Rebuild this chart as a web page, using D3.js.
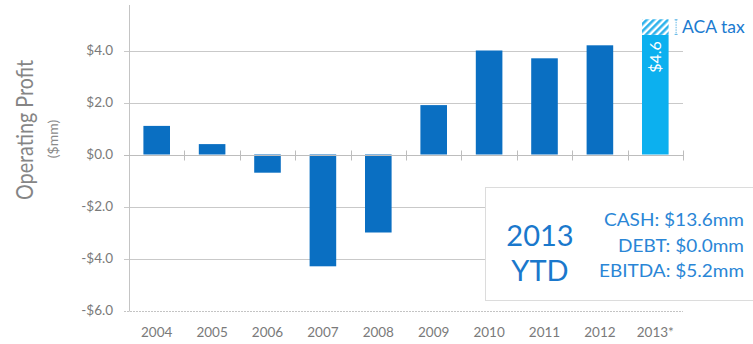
<!DOCTYPE html>
<html>
<head>
<meta charset="utf-8">
<script src="https://cdn.jsdelivr.net/npm/d3@7/dist/d3.min.js"></script>
<style>
  html, body { margin: 0; padding: 0; background: #fff; }
  svg { display: block; font-family: Lato, "Open Sans", sans-serif; }
</style>
</head>
<body>
<svg id="chart" width="753" height="344"></svg>
<script>
// Operating profit by year ($mm)
const years = ["2004", "2005", "2006", "2007", "2008", "2009", "2010", "2011", "2012", "2013*"];
const profit = [1.1, 0.4, -0.7, -4.3, -3.0, 1.9, 4.0, 3.7, 4.2, 4.6];
const acaTax = [0, 0, 0, 0, 0, 0, 0, 0, 0, 0.6];
const yTicks = [-6, -4, -2, 0, 2, 4];
const ytdLines = ["CASH: $13.6mm", "DEBT: $0.0mm", "EBITDA: $5.2mm"];

const svg = d3.select("#chart");
const left = 129, right = 683;

const x = d3.scaleBand().domain(years).range([left, right]).paddingInner(0.52).paddingOuter(0.26);
const y = d3.scaleLinear().domain([-6, 4]).range([310.5, 50.5]);

// hatch pattern for the ACA tax portion
const defs = svg.append("defs");
const pat = defs.append("pattern").attr("id", "hatch").attr("patternUnits", "userSpaceOnUse")
  .attr("width", 5).attr("height", 5).attr("patternTransform", "rotate(45)");
pat.append("rect").attr("width", 5).attr("height", 5).attr("fill", "#fff");
pat.append("rect").attr("width", 2.6).attr("height", 5).attr("fill", "#2fb3ec");

// horizontal gridlines
svg.append("g").selectAll("line").data(yTicks.filter(d => d !== 0 && d !== -6)).join("line")
  .attr("x1", left - 5).attr("x2", right)
  .attr("y1", d => Math.round(y(d)) + 0.5).attr("y2", d => Math.round(y(d)) + 0.5)
  .attr("stroke", "#c9c9c9").attr("stroke-width", 1);

// bottom line
svg.append("line").attr("x1", left - 5).attr("x2", right)
  .attr("y1", Math.round(y(-6)) + 0.5).attr("y2", Math.round(y(-6)) + 0.5)
  .attr("stroke", "#c4c4c4").attr("stroke-dasharray", "2,1");

// vertical axis line
svg.append("line").attr("x1", left + 0.5).attr("x2", left + 0.5).attr("y1", 5).attr("y2", Math.round(y(-6)) + 0.5)
  .attr("stroke", "#c4c4c4");

// y tick labels
const yAxis = d3.axisLeft(y).tickValues(yTicks).tickSize(0).tickPadding(0)
  .tickFormat(d => (d < 0 ? "-$" : "$") + Math.abs(d).toFixed(1));
const gy = svg.append("g").attr("transform", `translate(${left - 16},0)`).call(yAxis);
gy.select(".domain").remove();
gy.selectAll("text").attr("fill", "#7a7a7a").style("font-size", "13.5px")
  .style("font-family", "Lato, 'Open Sans', sans-serif");

// bars
svg.append("g").selectAll("rect").data(years).join("rect")
  .attr("x", d => x(d))
  .attr("width", x.bandwidth())
  .attr("y", (d, i) => y(Math.max(0, profit[i])))
  .attr("height", (d, i) => Math.abs(y(profit[i]) - y(0)))
  .attr("fill", (d, i) => i === years.length - 1 ? "#0cb0ef" : "#0a6fc2");

// ACA tax stacked segment
svg.append("g").selectAll("rect").data(years.filter((d, i) => acaTax[i] > 0)).join("rect")
  .attr("x", d => x(d))
  .attr("width", x.bandwidth())
  .attr("y", d => { const i = years.indexOf(d); return y(profit[i] + acaTax[i]); })
  .attr("height", d => { const i = years.indexOf(d); return y(profit[i]) - y(profit[i] + acaTax[i]); })
  .attr("fill", "url(#hatch)");

// zero line with category separators
const zy = Math.round(y(0)) + 0.5;
svg.append("line").attr("x1", left - 5).attr("x2", right).attr("y1", zy).attr("y2", zy)
  .attr("stroke", "#bdbdbd");
const step = x.step();
svg.append("g").selectAll("line").data(d3.range(1, years.length + 1)).join("line")
  .attr("x1", i => Math.round(left + i * step) + 0.5)
  .attr("x2", i => Math.round(left + i * step) + 0.5)
  .attr("y1", zy - 5).attr("y2", zy + 5)
  .attr("stroke", "#bdbdbd");

// value label inside the 2013 bar
const last = years[years.length - 1];
svg.append("text")
  .attr("transform", `translate(${x(last) + x.bandwidth() / 2 + 5.5},${y(profit[9]) + 22}) rotate(-90)`)
  .attr("text-anchor", "middle").attr("fill", "#fff").style("font-size", "16px")
  .text("$" + profit[9].toFixed(1));

// ACA tax bracket and label
const tTop = y(profit[9] + acaTax[9]), tBot = y(profit[9]);
const bx = x(last) + x.bandwidth() + 7.5;
svg.append("line").attr("x1", bx).attr("x2", bx).attr("y1", tTop).attr("y2", tBot)
  .attr("stroke", "#5fb6e6").attr("stroke-dasharray", "1.5,1");
svg.append("line").attr("x1", bx - 1.5).attr("x2", bx + 1.5).attr("y1", tTop + 0.5).attr("y2", tTop + 0.5).attr("stroke", "#5fb6e6");
svg.append("line").attr("x1", bx - 1.5).attr("x2", bx + 1.5).attr("y1", tBot - 0.5).attr("y2", tBot - 0.5).attr("stroke", "#5fb6e6");
svg.append("text").attr("x", bx + 6).attr("y", 33).attr("fill", "#1b7bd0")
  .style("font-size", "17.5px").text("ACA tax");

// x labels
svg.append("g").selectAll("text").data(years).join("text")
  .attr("x", d => x(d) + x.bandwidth() / 2).attr("y", 337)
  .attr("text-anchor", "middle").attr("fill", "#7a7a7a").style("font-size", "13.5px")
  .text(d => d);

// YTD summary box
svg.append("rect").attr("x", 485.5).attr("y", 187.5).attr("width", 275).attr("height", 113)
  .attr("fill", "#fff").attr("stroke", "#dcdcdc");
svg.append("text").attr("x", 540).attr("y", 246).attr("text-anchor", "middle")
  .attr("fill", "#1a78cc").style("font-size", "29px").text("2013");
svg.append("text").attr("x", 540).attr("y", 281).attr("text-anchor", "middle")
  .attr("fill", "#1a78cc").style("font-size", "29px").text("YTD");
const lineWidths = [140, 126, 145];
svg.append("g").selectAll("text").data(ytdLines).join("text")
  .attr("x", 744).attr("y", (d, i) => 226 + i * 25.5).attr("text-anchor", "end")
  .attr("textLength", (d, i) => lineWidths[i]).attr("lengthAdjust", "spacingAndGlyphs")
  .attr("fill", "#2a86d6").style("font-size", "18px").text(d => d);

// axis title
svg.append("text").attr("transform", "translate(33,130) rotate(-90)").attr("text-anchor", "middle")
  .attr("textLength", 140).attr("lengthAdjust", "spacingAndGlyphs")
  .attr("fill", "#858585").style("font-size", "22.5px").text("Operating Profit");
svg.append("text").attr("transform", "translate(58,139) rotate(-90)").attr("text-anchor", "middle")
  .attr("fill", "#8a8a8a").style("font-size", "14px").text("($mm)");
</script>
</body>
</html>
